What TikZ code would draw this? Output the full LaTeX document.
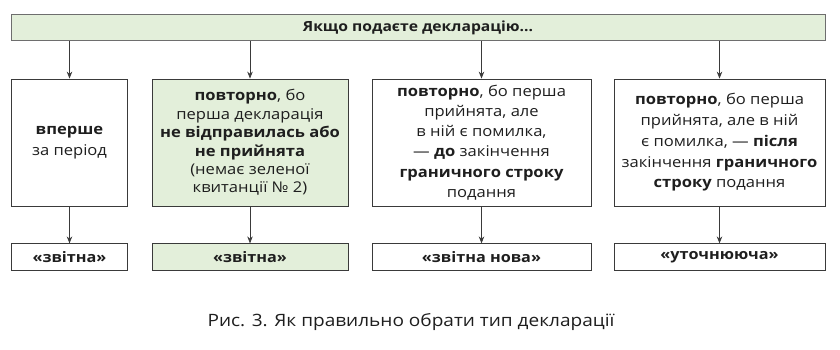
\documentclass[tikz,border=0pt]{standalone}
\usepackage{fontspec}
\setmainfont{Open Sans}[FakeStretch=1.12]
\usetikzlibrary{arrows.meta,positioning}
\definecolor{salatovyi}{HTML}{E3EFDA}
\definecolor{ramka}{HTML}{3A3A3A}
\definecolor{siryi}{HTML}{6E6E6E}
\definecolor{tekst}{HTML}{1E1E1E}
\tikzset{
  shapka/.style={draw=siryi, fill=salatovyi, line width=1pt, minimum width=814pt,
    minimum height=26pt, inner sep=0pt, font=\bfseries\fontsize{14}{16}\selectfont, text=tekst},
  vypadok/.style={draw=ramka, line width=0.8pt, minimum height=127pt, inner sep=0pt,
    align=center, font=\fontsize{14.8}{#1}\selectfont, text=tekst},
  vypadok/.default=20,
  typ/.style={draw=ramka, line width=0.8pt, minimum height=27pt, inner sep=0pt,
    font=\bfseries\fontsize{14.5}{16}\selectfont, text=tekst},
  strilka/.style={-{Stealth[length=7pt,width=5.5pt]}, draw=ramka, line width=0.8pt},
}

\begin{document}
\begin{tikzpicture}[x=1pt, y=-1pt, node distance=37pt]
    \useasboundingbox (0,0) rectangle (840,350);
    \node[shapka] (pod) at (418,28) {Якщо подаєте декларацію...};
    \node[vypadok=21, minimum width=116pt] (v1) at (69.5,142.5) {\textbf{вперше}\\за період};
    \node[vypadok=18.4, minimum width=196pt, fill=salatovyi] (v2) at (250,142.5)
      {\textbf{повторно}, бо\\перша декларація\\\textbf{не відправилась або}\\\textbf{не прийнята}\\(немає зеленої\\квитанції № 2)};
    \node[vypadok=20.2, minimum width=219pt] (v3) at (481.5,142.5)
      {\textbf{повторно}, бо перша\\прийнята, але\\в ній є помилка,\\— \textbf{до} закінчення\\\textbf{граничного строку}\\подання};
    \node[vypadok=20.7, minimum width=211pt] (v4) at (719.5,142.5)
      {\textbf{повторно}, бо перша\\прийнята, але в ній\\є помилка, — \textbf{після}\\закінчення \textbf{граничного}\\\textbf{строку} подання};
    \node[typ, minimum width=116pt, below=of v1] (t1) {«звітна»};
    \node[typ, minimum width=196pt, fill=salatovyi, below=of v2] (t2) {«звітна»};
    \node[typ, minimum width=219pt, below=of v3] (t3) {«звітна нова»};
    \node[typ, minimum width=211pt, below=of v4] (t4) {«уточнююча»};
    \foreach \i in {1,...,4} {
      \draw[strilka] (pod.south -| v\i) -- (v\i.north);
      \draw[strilka] (v\i.south) -- (t\i.north);
    }
    \node[font=\fontsize{17}{19}\selectfont, text=tekst] (pidpys) at (411,322)
      {Рис. 3. Як правильно обрати тип декларації};
\end{tikzpicture}
\end{document}
